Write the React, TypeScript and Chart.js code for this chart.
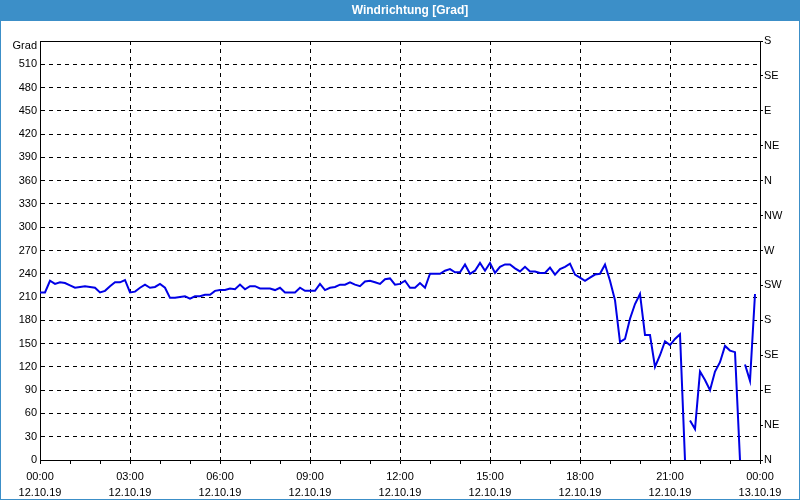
import React, { useEffect, useRef } from "react";
import { Chart, registerables } from "chart.js";

Chart.register(...registerables);

const TITLE = "Windrichtung [Grad]";
const Y_UNIT = "Grad";

// minutes since 12.10.19 00:00
const minutes = [
  0, 10, 20, 30, 40, 50, 60, 70, 80, 90, 100, 110, 120, 130, 140, 150, 160, 170, 180, 190,
  200, 210, 220, 230, 240, 250, 260, 270, 280, 290, 300, 310, 320, 330, 340, 350, 360, 370, 380, 390,
  400, 410, 420, 430, 440, 450, 460, 470, 480, 490, 500, 510, 520, 530, 540, 550, 560, 570, 580, 590,
  600, 610, 620, 630, 640, 650, 660, 670, 680, 690, 700, 710, 720, 730, 740, 750, 760, 770, 780, 790,
  800, 810, 820, 830, 840, 850, 860, 870, 880, 890, 900, 910, 920, 930, 940, 950, 960, 970, 980, 990,
  1000, 1010, 1020, 1030, 1040, 1050, 1060, 1070, 1080, 1090, 1100, 1110, 1120, 1130, 1140, 1150, 1160, 1170, 1180, 1190,
  1200, 1210, 1220, 1230, 1240, 1250, 1260, 1270, 1280, 1290, 1295, 1300, 1310, 1320, 1330, 1340, 1350, 1360, 1370, 1380,
  1390, 1400, 1405, 1410, 1420, 1430,
];

const direction: (number | null)[] = [
  216, 216, 231, 227, 229, 228, 225, 222, 223, 224, 223, 222, 216, 218, 224, 229, 229, 232, 216, 217,
  222, 226, 222, 223, 227, 222, 209, 209, 210, 211, 208, 211, 211, 213, 213, 218, 219, 219, 221, 220,
  226, 220, 224, 224, 221, 221, 221, 219, 222, 216, 216, 216, 222, 218, 218, 218, 227, 219, 222, 223,
  226, 226, 229, 226, 224, 230, 231, 229, 227, 233, 234, 226, 227, 231, 222, 222, 228, 222, 240, 240,
  240, 244, 246, 242, 242, 252, 240, 244, 254, 244, 254, 241, 249, 252, 252, 247, 243, 249, 243, 243,
  241, 241, 248, 239, 246, 249, 253, 239, 235, 231, 235, 239, 240, 252, 231, 206, 152, 156, 182, 201,
  214, 161, 161, 120, 135, 153, 148, 156, 162, 0, null, 51, 40, 114, 103, 90, 114, 126, 147, 141,
  139, 0, null, 123, 102, 214,
];

const timeLabels = ["00:00", "03:00", "06:00", "09:00", "12:00", "15:00", "18:00", "21:00", "00:00"];
const dateLabels = ["12.10.19", "12.10.19", "12.10.19", "12.10.19", "12.10.19", "12.10.19", "12.10.19", "12.10.19", "13.10.19"];
const compassLabels = ["N", "NE", "E", "SE", "S", "SW", "W", "NW", "N", "NE", "E", "SE", "S"];

const FONT = "'Liberation Sans', Arial, sans-serif";
const BAR = "#3c8fc8";

const framePlugin = {
  id: "frame",
  beforeDraw(chart: any) {
    const { ctx, width, height } = chart;
    ctx.save();
    ctx.fillStyle = "#ffffff";
    ctx.fillRect(0, 0, width, height);
    ctx.fillStyle = BAR;
    ctx.fillRect(0, 0, width, 21);
    ctx.strokeStyle = BAR;
    ctx.lineWidth = 1;
    ctx.strokeRect(0.5, 0.5, width - 1, height - 1);
    ctx.fillStyle = "#ffffff";
    ctx.font = `bold 12px ${FONT}`;
    ctx.textAlign = "center";
    ctx.textBaseline = "middle";
    ctx.fillText(TITLE, width / 2 + 10, 11);
    ctx.restore();
  },
  afterDraw(chart: any) {
    const { ctx, chartArea: a } = chart;
    ctx.save();
    ctx.strokeStyle = "#000";
    ctx.lineWidth = 1;
    ctx.beginPath();
    ctx.moveTo(Math.round(a.left) + 0.5, Math.round(a.top) + 0.5);
    ctx.lineTo(Math.round(a.right) + 0.5, Math.round(a.top) + 0.5);
    ctx.stroke();
    ctx.fillStyle = "#000";
    ctx.font = `11px ${FONT}`;
    ctx.textAlign = "right";
    ctx.textBaseline = "middle";
    ctx.fillText(Y_UNIT, a.left - 3, a.top + 5);
    ctx.restore();
  },
};

export default function App() {
  const ref = useRef<HTMLCanvasElement | null>(null);

  useEffect(() => {
    if (!ref.current) return;
    const points = minutes.map((m, i) => ({ x: m, y: direction[i] }));
    const chart = new Chart(ref.current, {
      type: "line",
      data: {
        datasets: [
          {
            data: points as any,
            borderColor: "#0000e6",
            borderWidth: 2,
            pointRadius: 0,
            tension: 0,
            spanGaps: false,
          },
        ],
      },
      plugins: [framePlugin],
      options: {
        responsive: false,
        animation: false,
        events: [],
        layout: { padding: { top: 41, left: 0, right: 0, bottom: 0 } },
        plugins: { legend: { display: false }, tooltip: { enabled: false }, title: { display: false } },
        scales: {
          x: {
            type: "linear",
            min: 0,
            max: 1440,
            afterFit: (s: any) => {
              s.height = 40;
            },
            ticks: {
              stepSize: 60,
              autoSkip: false,
              maxRotation: 0,
              padding: 5,
              color: "#000",
              font: { family: FONT, size: 11, lineHeight: "16px" },
              callback: (v: any) => {
                const n = Number(v);
                if (n % 180 !== 0) return "";
                const i = n / 180;
                return [timeLabels[i], dateLabels[i]];
              },
            },
            grid: {
              color: (c: any) => (c.tick && c.tick.value % 180 === 0 && c.tick.value > 0 && c.tick.value < 1440 ? "#000" : "rgba(0,0,0,0)"),
              tickColor: "#000",
              tickLength: 4,
              lineWidth: 1,
              tickBorderDash: [],
            },
            border: { display: true, color: "#000", width: 1, dash: [4, 4] },
          },
          y: {
            type: "linear",
            position: "left",
            min: 0,
            max: 540,
            afterFit: (s: any) => {
              s.width = 40;
            },
            ticks: {
              stepSize: 30,
              padding: 3,
              color: "#000",
              font: { family: FONT, size: 11 },
              callback: (v: any) => (Number(v) >= 540 ? "" : String(v)),
            },
            grid: {
              color: (c: any) => (c.tick && c.tick.value > 0 && c.tick.value < 540 ? "#000" : "rgba(0,0,0,0)"),
              drawTicks: false,
              lineWidth: 1,
            },
            border: { display: true, color: "#000", width: 1, dash: [4, 4] },
          },
          y2: {
            type: "linear",
            position: "right",
            min: 0,
            max: 540,
            afterFit: (s: any) => {
              s.width = 40;
            },
            ticks: {
              stepSize: 45,
              padding: 1,
              color: "#000",
              font: { family: FONT, size: 11 },
              callback: (_v: any, i: number) => compassLabels[i],
            },
            grid: {
              drawOnChartArea: false,
              drawTicks: true,
              tickLength: 3,
              tickColor: "#000",
            },
            border: { display: true, color: "#000", width: 1 },
          },
        },
      },
    });
    return () => chart.destroy();
  }, []);

  return (
    <div style={{ position: "absolute", left: 0, top: 0, width: 800, height: 500 }}>
      <canvas ref={ref} width={800} height={500} style={{ display: "block" }} />
    </div>
  );
}
